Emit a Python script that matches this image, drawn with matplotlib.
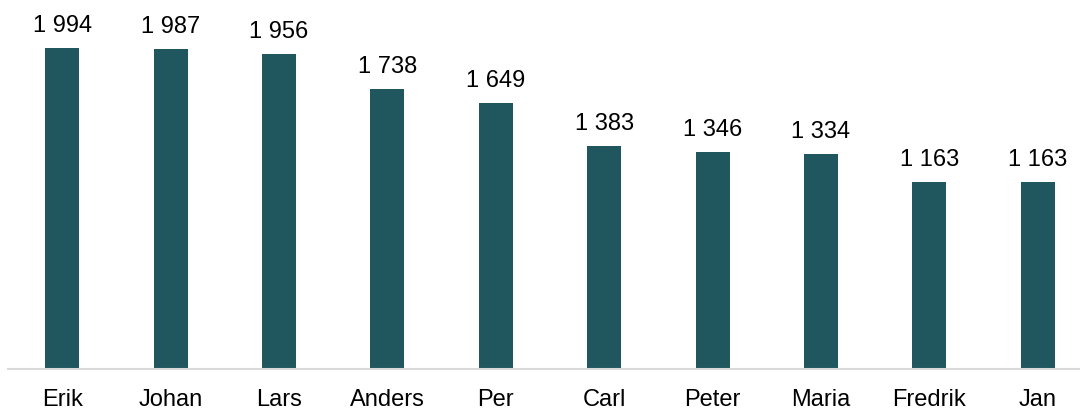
import matplotlib
matplotlib.use("Agg")
import matplotlib.pyplot as plt

names = ["Erik", "Johan", "Lars", "Anders", "Per", "Carl", "Peter", "Maria", "Fredrik", "Jan"]
counts = [1994, 1987, 1956, 1738, 1649, 1383, 1346, 1334, 1163, 1163]

plt.rcParams['font.family'] = ['Liberation Sans', 'DejaVu Sans']

W, H = 1080, 410
fig = plt.figure(figsize=(W / 100, H / 100), dpi=100)
left_px, right_px = 8, 1092
base_px = 370
ax = fig.add_axes([left_px / W, (H - base_px) / H, (right_px - left_px) / W, base_px / H])

x = range(len(names))
bars = ax.bar(x, counts, width=0.315, color="#20565E", zorder=2)
ax.set_xlim(-0.5, len(names) - 0.5)
ax.set_ylim(0, 2298)

for xi, v in zip(x, counts):
    label = f"{v:,}".replace(",", " ")
    ax.annotate(label, (xi, v), xytext=(0, 12), textcoords="offset pixels",
                ha="center", va="bottom", fontsize=17, color="#000000")

ax.set_xticks(list(x))
ax.set_xticklabels(names, fontsize=17)
ax.tick_params(axis="x", length=0, pad=14)
ax.set_yticks([])
for s in ["top", "right", "left"]:
    ax.spines[s].set_visible(False)
ax.spines["bottom"].set_color("#D9D9D9")
ax.spines["bottom"].set_linewidth(1.5)
ax.patch.set_alpha(0)

fig.savefig("out.png", dpi=100)
